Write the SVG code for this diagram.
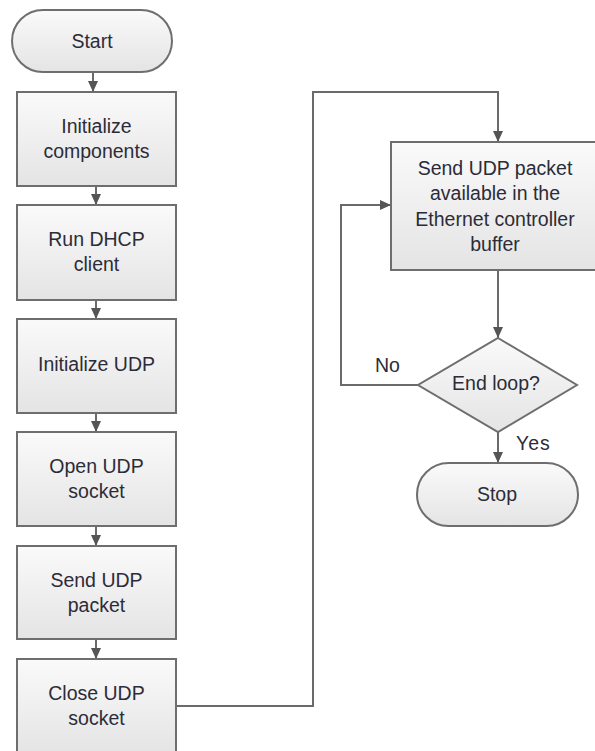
<svg xmlns="http://www.w3.org/2000/svg" width="595" height="751" viewBox="0 0 595 751">
  <defs>
    <linearGradient id="fillGrad" x1="0" y1="0" x2="0" y2="1">
      <stop offset="0" stop-color="#fafafa"/>
      <stop offset="1" stop-color="#e4e4e4"/>
    </linearGradient>
    <marker id="arrow" markerUnits="userSpaceOnUse" markerWidth="11" markerHeight="10" refX="11" refY="5" orient="auto">
      <path d="M0,0 L11,5 L0,10 Z" fill="#555"/>
    </marker>
    <style>
      .shape { fill: url(#fillGrad); stroke: #6e6e6e; stroke-width: 2; }
      .conn { fill: none; stroke: #6a6a6a; stroke-width: 2; marker-end: url(#arrow); }
      text { font-family: "Liberation Sans", Arial, sans-serif; font-size: 19.5px; fill: #2c2c38; text-anchor: middle; }
      .lbl { text-anchor: start; }
    </style>
  </defs>
  <rect width="595" height="751" fill="#ffffff"/>

  <g id="connectors">
    <line class="conn" x1="93" y1="72" x2="93" y2="92"/>
    <line class="conn" x1="96" y1="186" x2="96" y2="205"/>
    <line class="conn" x1="96" y1="300" x2="96" y2="319"/>
    <line class="conn" x1="96" y1="413" x2="96" y2="432"/>
    <line class="conn" x1="96" y1="526" x2="96" y2="546"/>
    <line class="conn" x1="96" y1="639" x2="96" y2="659"/>
    <polyline class="conn" points="176,706 313,706 313,92 498,92 498,142"/>
    <line class="conn" x1="498" y1="270" x2="498" y2="338"/>
    <polyline class="conn" points="418,385 341,385 341,205 391,205"/>
    <line class="conn" x1="498" y1="432" x2="498" y2="463"/>
    <text class="lbl" x="375" y="372">No</text>
    <text class="lbl" x="516" y="450" letter-spacing="1">Yes</text>
  </g>

  <g id="start">
    <rect class="shape" x="12" y="10" width="160" height="62" rx="31" ry="31"/>
    <text x="92" y="48">Start</text>
  </g>

  <g id="init-components">
    <rect class="shape" x="17" y="92" width="159" height="94"/>
    <text x="96.5" y="133">Initialize</text>
    <text x="96.5" y="158">components</text>
  </g>

  <g id="run-dhcp">
    <rect class="shape" x="17" y="205" width="159" height="95"/>
    <text x="96.5" y="246">Run DHCP</text>
    <text x="96.5" y="271">client</text>
  </g>

  <g id="init-udp">
    <rect class="shape" x="17" y="319" width="159" height="94"/>
    <text x="96.5" y="371">Initialize UDP</text>
  </g>

  <g id="open-socket">
    <rect class="shape" x="17" y="432" width="159" height="94"/>
    <text x="96.5" y="473">Open UDP</text>
    <text x="96.5" y="498">socket</text>
  </g>

  <g id="send-packet">
    <rect class="shape" x="17" y="546" width="159" height="93"/>
    <text x="96.5" y="587">Send UDP</text>
    <text x="96.5" y="612">packet</text>
  </g>

  <g id="close-socket">
    <rect class="shape" x="17" y="659" width="159" height="96"/>
    <text x="96.5" y="700">Close UDP</text>
    <text x="96.5" y="725">socket</text>
  </g>

  <g id="send-buffer">
    <rect class="shape" x="391" y="142" width="210" height="128"/>
    <text x="495" y="175">Send UDP packet</text>
    <text x="495" y="200">available in the</text>
    <text x="495" y="226">Ethernet controller</text>
    <text x="495" y="251">buffer</text>
  </g>

  <g id="end-loop">
    <polygon class="shape" points="498,338 577,385 498,432 418,385"/>
    <text x="496" y="390">End loop?</text>
  </g>

  <g id="stop">
    <rect class="shape" x="417" y="463" width="161" height="63" rx="31.5" ry="31.5"/>
    <text x="497" y="501">Stop</text>
  </g>
</svg>
